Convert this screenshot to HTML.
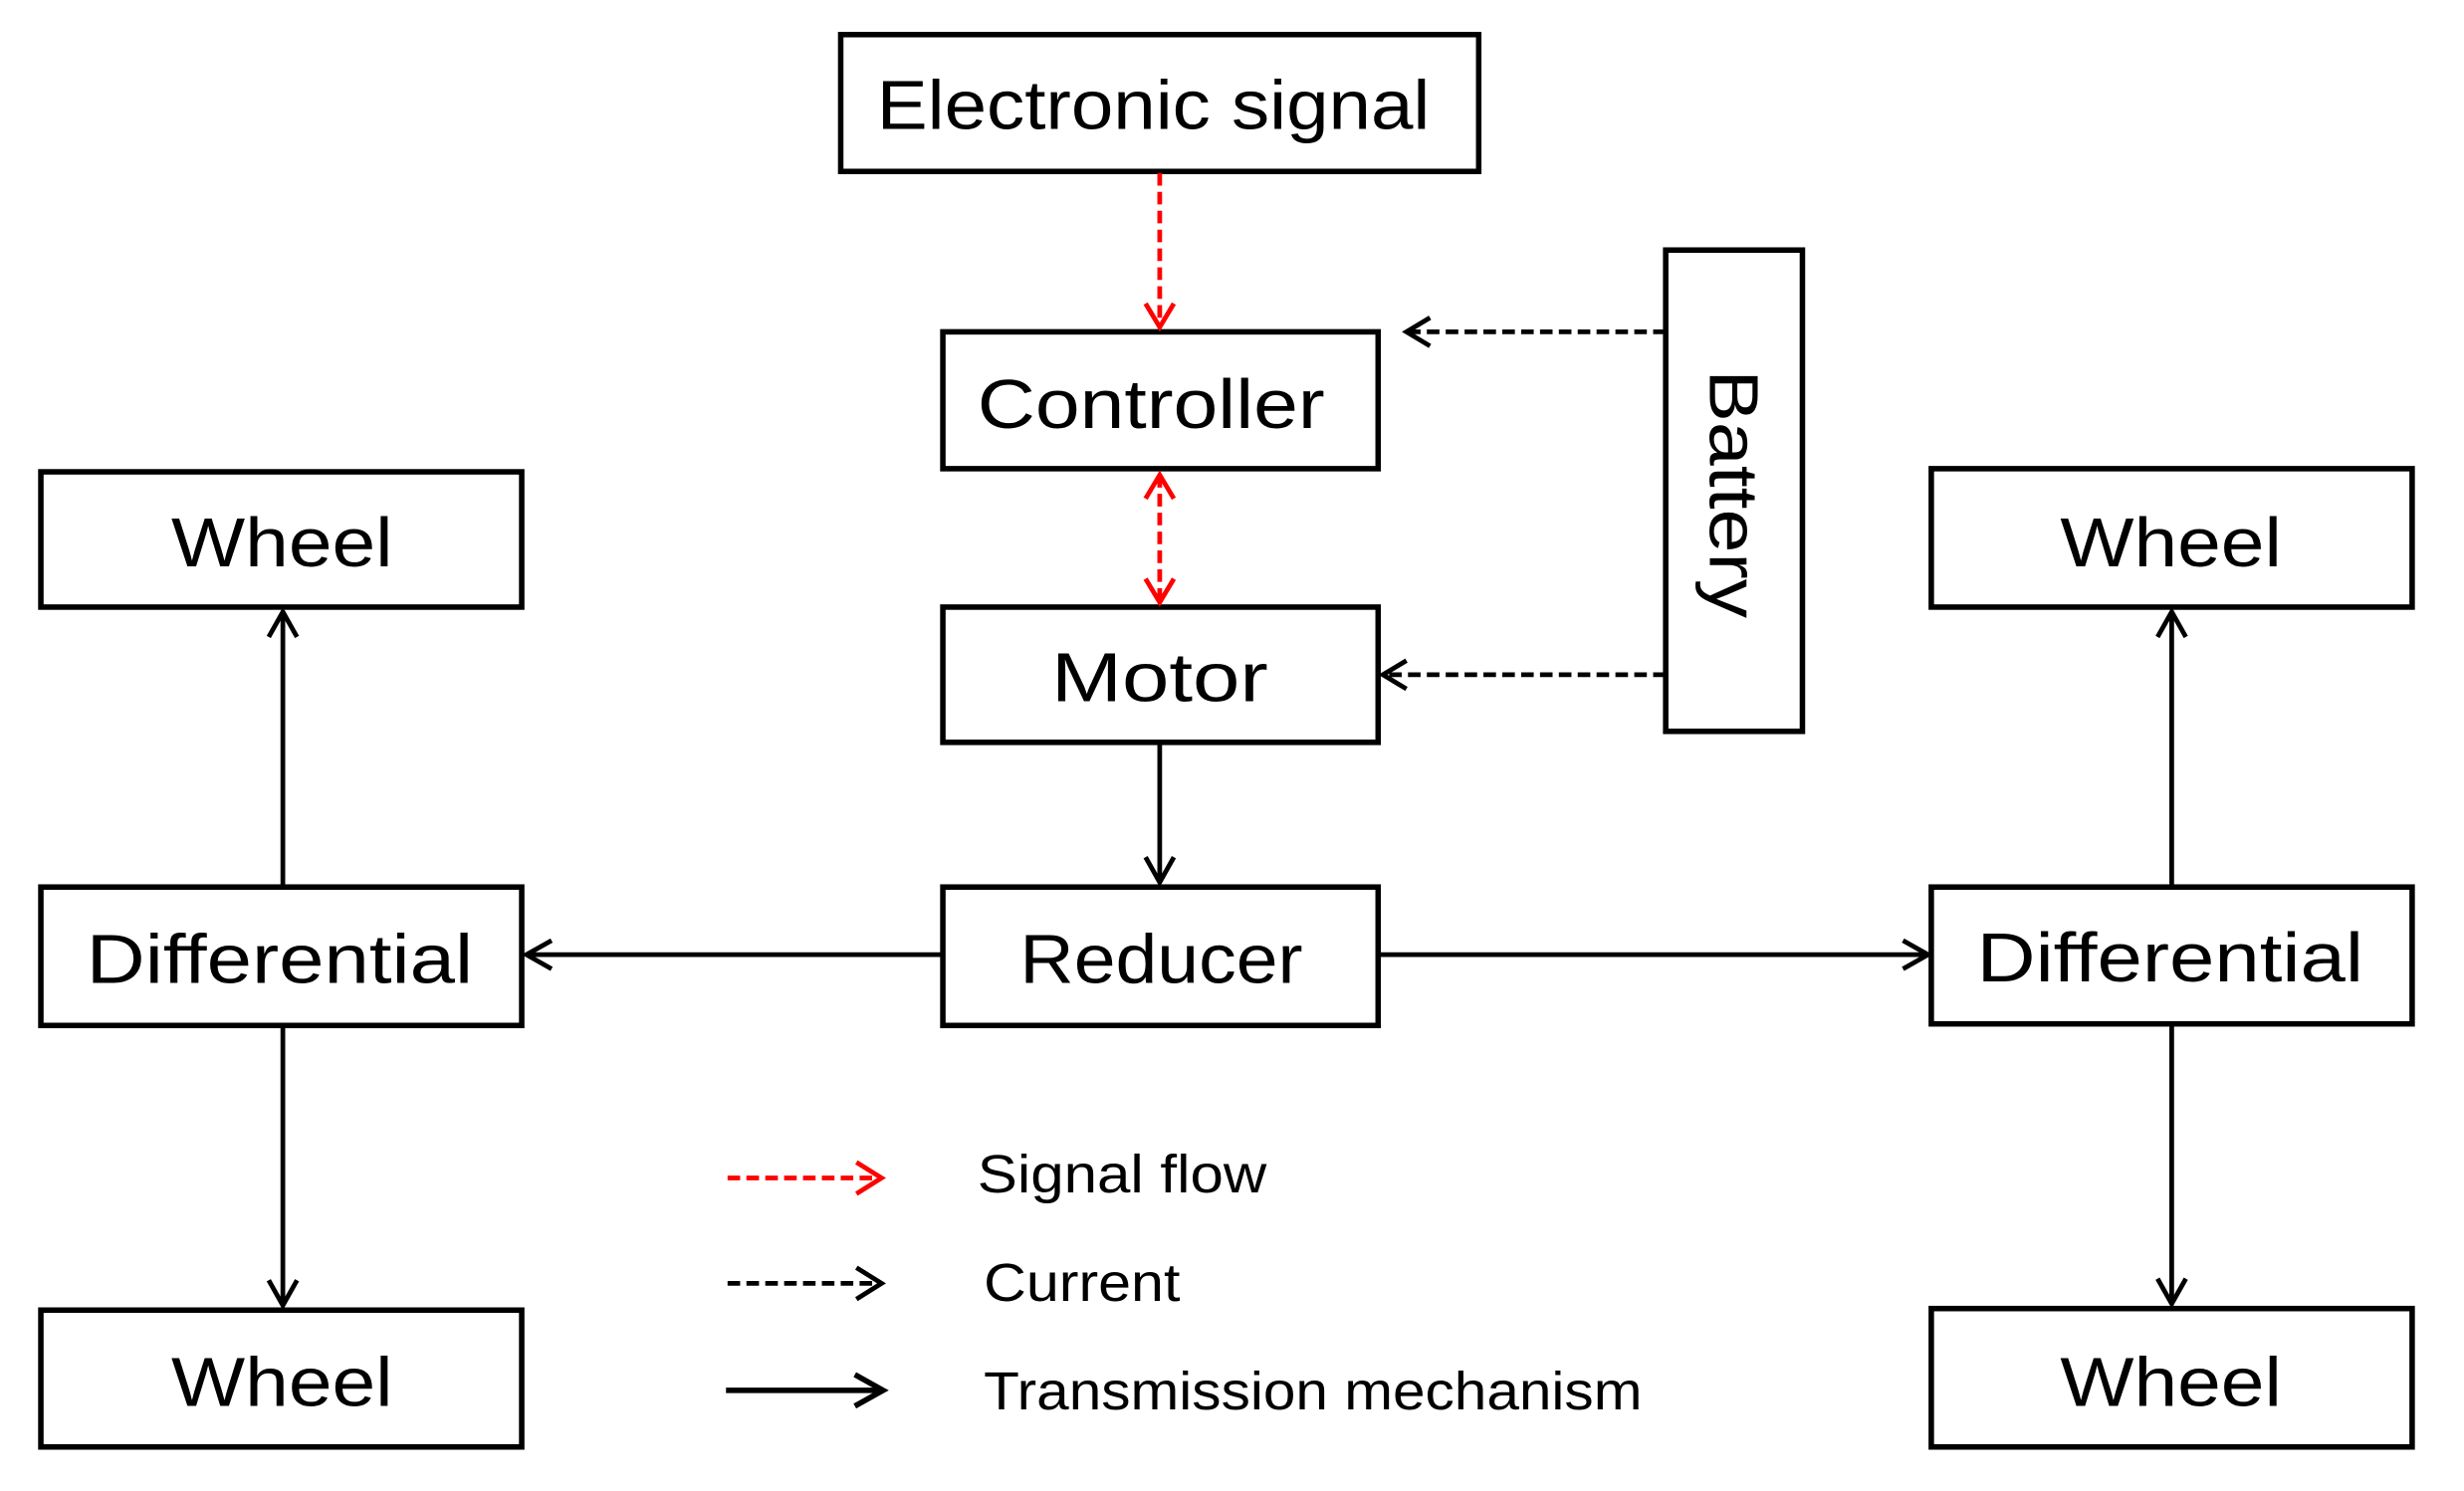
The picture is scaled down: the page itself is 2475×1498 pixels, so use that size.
<!DOCTYPE html>
<html><head><style>html,body{margin:0;padding:0;background:#fff}svg{display:block}</style></head>
<body>
<svg width="2475" height="1498" viewBox="0 0 1568 948" preserveAspectRatio="none" xmlns="http://www.w3.org/2000/svg" font-family="Liberation Sans, sans-serif">
<g fill="none" stroke="#000" stroke-width="3.5">
<rect x="535" y="22" width="406" height="87"/>
<rect x="600" y="211" width="277" height="87"/>
<rect x="600" y="386" width="277" height="86"/>
<rect x="600" y="564" width="277" height="88"/>
<rect x="1060" y="159" width="87" height="306"/>
<rect x="26" y="300" width="306" height="86"/>
<rect x="26" y="564" width="306" height="88"/>
<rect x="26" y="833" width="306" height="87"/>
<rect x="1229" y="298" width="306" height="88"/>
<rect x="1229" y="564" width="306" height="87"/>
<rect x="1229" y="832" width="306" height="88"/>
</g>
<g fill="none" stroke="#000" stroke-width="3">
<line x1="738" y1="472" x2="738" y2="561"/><polyline points="729,545 738,561 747,545"/>
<line x1="600" y1="607" x2="335" y2="607"/><polyline points="351,598 335,607 351,616"/>
<line x1="877" y1="607" x2="1227" y2="607"/><polyline points="1211,598 1227,607 1211,616"/>
<line x1="180" y1="564" x2="180" y2="389"/><polyline points="171,405 180,389 189,405"/>
<line x1="180" y1="652" x2="180" y2="830"/><polyline points="171,814 180,830 189,814"/>
<line x1="1382" y1="564" x2="1382" y2="389"/><polyline points="1373,405 1382,389 1391,405"/>
<line x1="1382" y1="651" x2="1382" y2="829"/><polyline points="1373,813 1382,829 1391,813"/>
<line x1="462" y1="884" x2="562" y2="884" stroke-width="3.5"/><polyline points="544,874 562,884 544,894" stroke-width="3.5"/>
</g>
<g fill="none" stroke="#000" stroke-width="3">
<line x1="1060" y1="211" x2="896" y2="211" stroke-dasharray="8,4"/><polyline points="910,202 895,211 910,220"/>
<line x1="1060" y1="429" x2="881" y2="429" stroke-dasharray="8,4"/><polyline points="895,420 880,429 895,438"/>
<line x1="463" y1="816" x2="560" y2="816" stroke-dasharray="8,4"/><polyline points="545,806 561,816 545,826"/>
</g>
<g fill="none" stroke="#f00" stroke-width="3">
<line x1="738" y1="110" x2="738" y2="207" stroke-dasharray="8,4"/><polyline points="729,193 738,208 747,193"/>
<line x1="738" y1="302" x2="738" y2="382" stroke-dasharray="8,4"/><polyline points="729,317 738,302 747,317"/><polyline points="729,368 738,383 747,368"/>
<line x1="463" y1="749" x2="560" y2="749" stroke-dasharray="8,4"/><polyline points="545,739 561,749 545,759"/>
</g>
<g font-size="44" fill="#000">
<text x="558" y="82" textLength="352" lengthAdjust="spacingAndGlyphs">Electronic signal</text>
<text x="622" y="272" textLength="221" lengthAdjust="spacingAndGlyphs">Controller</text>
<text x="669" y="446" textLength="138" lengthAdjust="spacingAndGlyphs">Motor</text>
<text x="649" y="625" textLength="180" lengthAdjust="spacingAndGlyphs">Reducer</text>
<text x="109" y="360" textLength="141" lengthAdjust="spacingAndGlyphs">Wheel</text>
<text x="109" y="894" textLength="141" lengthAdjust="spacingAndGlyphs">Wheel</text>
<text x="1311" y="360" textLength="141" lengthAdjust="spacingAndGlyphs">Wheel</text>
<text x="1311" y="894" textLength="141" lengthAdjust="spacingAndGlyphs">Wheel</text>
<text x="55" y="625" textLength="246" lengthAdjust="spacingAndGlyphs">Differential</text>
<text x="1258" y="624" textLength="246" lengthAdjust="spacingAndGlyphs">Differential</text>
<text transform="translate(1088,235) rotate(90)" textLength="158" lengthAdjust="spacingAndGlyphs">Battery</text>
</g>
<g font-size="34" fill="#000">
<text x="622" y="758" textLength="184" lengthAdjust="spacingAndGlyphs">Signal flow</text>
<text x="626" y="827" textLength="125" lengthAdjust="spacingAndGlyphs">Current</text>
<text x="626" y="896" textLength="419" lengthAdjust="spacingAndGlyphs">Transmission  mechanism</text>
</g>
</svg>
</body></html>
